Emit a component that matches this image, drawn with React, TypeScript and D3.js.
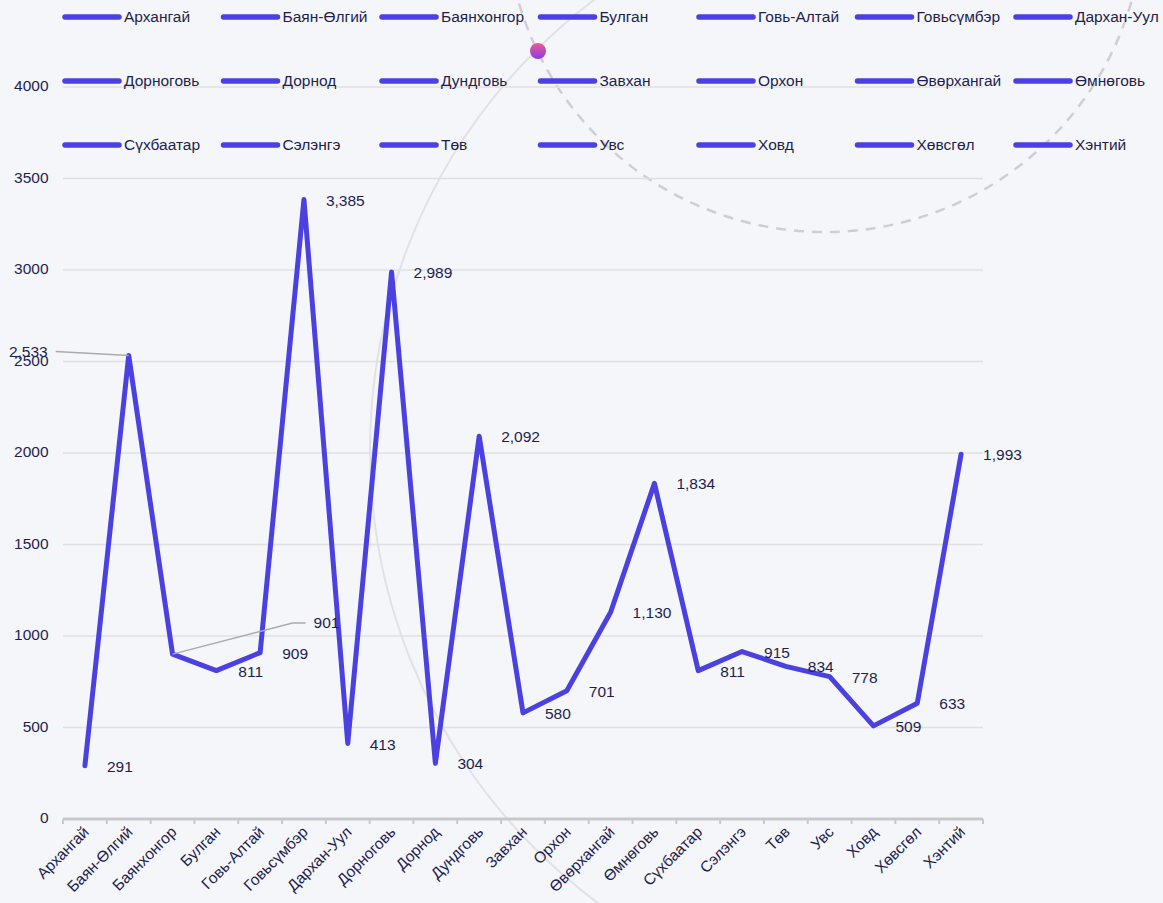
import React from 'react';
import * as d3 from 'd3';

const categories = ['Архангай', 'Баян-Өлгий', 'Баянхонгор', 'Булган', 'Говь-Алтай', 'Говьсүмбэр', 'Дархан-Уул', 'Дорноговь', 'Дорнод', 'Дундговь', 'Завхан', 'Орхон', 'Өвөрхангай', 'Өмнөговь', 'Сүхбаатар', 'Сэлэнгэ', 'Төв', 'Увс', 'Ховд', 'Хөвсгөл', 'Хэнтий'];
const values = [291, 2533, 901, 811, 909, 3385, 413, 2989, 304, 2092, 580, 701, 1130, 1834, 811, 915, 834, 778, 509, 633, 1993];
const yTicks = [0, 500, 1000, 1500, 2000, 2500, 3000, 3500, 4000];

const W = 1163, H = 903;
const LINE = '#4b41e1';
const TEXT = '#1e1e4e';
const FONT = 'Arial, "Liberation Sans", sans-serif';
const FS = 15.5;

const App = () => {
  const x = d3.scaleBand<string>().domain(categories).range([63, 983]);
  const y = d3.scaleLinear().domain([0, 4000]).range([819, 87]);
  const cx = (c: string) => (x(c) as number) + x.bandwidth() / 2;

  const line = d3.line<number>().x((d, i) => cx(categories[i])).y(d => y(d));
  const fmt = d3.format(',');

  // labels that got pushed away from their point (with leader lines)
  const moved: { [k: number]: { dx: number, dy: number, anchor: string, leader: number[][] } } = {
    1: { dx: -81, dy: -3, anchor: 'end', leader: [[-73, -4]] },
    2: { dx: 141, dy: -30, anchor: 'start', leader: [[120, -31], [133, -31]] },
  };

  const edges = categories.map(c => x(c) as number).concat([983]);

  return (
    <svg width={W} height={H} style={{ position: 'absolute', left: 0, top: 0, background: '#f5f6fa' }} fontFamily={FONT}>
      <defs>
        <linearGradient id="dotGrad" x1="0" y1="0" x2="0" y2="1">
          <stop offset="0%" stopColor="#ec5a93" />
          <stop offset="100%" stopColor="#8a3be6" />
        </linearGradient>
      </defs>

      {/* background decoration */}
      <circle cx={934} cy={450} r={564} fill="none" stroke="#e2e2e6" strokeWidth={2} />
      <circle cx={825} cy={-87} r={319} fill="none" stroke="#cfcfd3" strokeWidth={2.5} strokeDasharray="10,8" />

      {/* grid */}
      {yTicks.map(t => (
        <g key={t}>
          {t > 0 && <line x1={63} x2={983} y1={y(t)} y2={y(t)} stroke="#e0e0e2" strokeWidth={1.5} />}
          <text x={48.5} y={y(t)} textAnchor="end" dominantBaseline="middle" fontSize={FS} fill={TEXT}>{t}</text>
        </g>
      ))}

      {/* x axis */}
      <line x1={63} x2={983} y1={819} y2={819} stroke="#c8c8ca" strokeWidth={3} />
      {edges.map((e, i) => (
        <line key={i} x1={e} x2={e} y1={819} y2={824} stroke="#c8c8ca" strokeWidth={2} />
      ))}
      {categories.map(c => (
        <text key={c} transform={`translate(${cx(c) + 5},${833}) rotate(-45)`} textAnchor="end" fontSize={FS} fill={TEXT}>{c}</text>
      ))}

      {/* series */}
      <path d={line(values) as string} fill="none" stroke={LINE} strokeWidth={5} strokeLinejoin="round" strokeLinecap="round" />

      {values.map((v, i) => {
        const px = cx(categories[i]), py = y(v);
        const m = moved[i];
        if (m) {
          const pts = [[px, py]].concat(m.leader.map(p => [px + p[0], py + p[1]]));
          return (
            <g key={i}>
              <polyline points={pts.map(p => p.join(',')).join(' ')} fill="none" stroke="#aaaaaa" strokeWidth={1.5} />
              <text x={px + m.dx} y={py + m.dy} textAnchor={m.anchor} dominantBaseline="middle" fontSize={FS} fill={TEXT}>{fmt(v)}</text>
            </g>
          );
        }
        return (
          <text key={i} x={px + 22} y={py + 2} dominantBaseline="middle" fontSize={FS} fill={TEXT}>{fmt(v)}</text>
        );
      })}

      {/* legend */}
      {categories.map((c, i) => {
        const lx = 65 + (i % 7) * 158.5;
        const ly = 17 + Math.floor(i / 7) * 64;
        return (
          <g key={c}>
            <line x1={lx} x2={lx + 54} y1={ly} y2={ly} stroke={LINE} strokeWidth={5.5} strokeLinecap="round" />
            <text x={lx + 59} y={ly + 1} dominantBaseline="middle" fontSize={FS} fill={TEXT}>{c}</text>
          </g>
        );
      })}

      <circle cx={538} cy={51} r={8} fill="url(#dotGrad)" />
    </svg>
  );
};

export default App;
